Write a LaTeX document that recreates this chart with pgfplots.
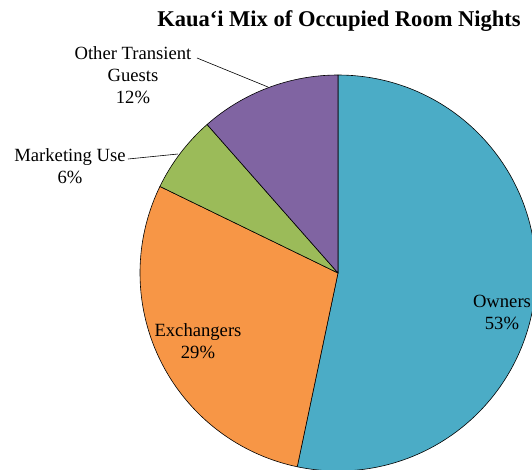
\documentclass[border=0pt]{standalone}
\usepackage{fontspec}
\setmainfont{Liberation Serif}
\usepackage{pgfplots}
\usepackage{pgfplotstable}
\pgfplotsset{compat=1.18}
\definecolor{cOwners}{HTML}{4BACC6}
\definecolor{cExch}{HTML}{F79646}
\definecolor{cMkt}{HTML}{9BBB59}
\definecolor{cOther}{HTML}{8064A2}
\pgfplotstableread{
label value
Owners 53.3
Exchangers 28.9
Marketing 6.3
Other 11.5
}\piedata
\begin{document}%
\begin{tikzpicture}
\pgfplotstablegetelem{0}{value}\of\piedata\pgfmathsetmacro\vA{\pgfplotsretval}
\pgfplotstablegetelem{1}{value}\of\piedata\pgfmathsetmacro\vB{\pgfplotsretval}
\pgfplotstablegetelem{2}{value}\of\piedata\pgfmathsetmacro\vC{\pgfplotsretval}
\pgfplotstablegetelem{3}{value}\of\piedata\pgfmathsetmacro\vD{\pgfplotsretval}
\pgfmathsetmacro\aO{90}
\pgfmathsetmacro\aA{\aO-3.6*\vA}
\pgfmathsetmacro\aB{\aA-3.6*\vB}
\pgfmathsetmacro\aC{\aB-3.6*\vC}
\pgfmathsetmacro\aD{\aC-3.6*\vD}
\begin{axis}[
  at={(0,0)}, anchor=south west,
  x=1bp, y=1bp, scale only axis,
  xmin=0, xmax=532, ymin=0, ymax=470,
  y dir=reverse,
  hide axis, clip=true,
]
\def\R{198bp}
\filldraw[fill=cOwners, draw=black, line width=0.6pt, line join=round]
  (axis cs:338,273) -- ++(\aO:\R) arc[start angle=\aO, end angle=\aA, radius=\R] -- cycle;
\filldraw[fill=cExch, draw=black, line width=0.6pt, line join=round]
  (axis cs:338,273) -- ++(\aA:\R) arc[start angle=\aA, end angle=\aB, radius=\R] -- cycle;
\filldraw[fill=cMkt, draw=black, line width=0.6pt, line join=round]
  (axis cs:338,273) -- ++(\aB:\R) arc[start angle=\aB, end angle=\aC, radius=\R] -- cycle;
\filldraw[fill=cOther, draw=black, line width=0.6pt, line join=round]
  (axis cs:338,273) -- ++(\aC:\R) arc[start angle=\aC, end angle=\aD, radius=\R] -- cycle;
% leader lines
\draw[black, line width=0.6pt] (axis cs:197,58) -- (axis cs:268,87);
\draw[black, line width=0.6pt] (axis cs:128,159) -- (axis cs:178,154);
% labels
\node[font=\fontsize{22.6}{26}\selectfont\bfseries] at (axis cs:339,21) {Kaua‘i Mix of Occupied Room Nights};
\node[font=\fontsize{18.7}{22}\selectfont, align=center] at (axis cs:133,75) {Other Transient\\Guests\\12\%};
\node[font=\fontsize{18.7}{22}\selectfont, align=center] at (axis cs:70,166) {Marketing Use\\6\%};
\node[font=\fontsize{18.7}{22}\selectfont, align=center] at (axis cs:198,341) {Exchangers\\29\%};
\node[font=\fontsize{18.7}{22}\selectfont, align=center] at (axis cs:502,312) {Owners\\53\%};
\end{axis}
\pgfresetboundingbox
\useasboundingbox (0,0) rectangle (532bp,470bp);
\end{tikzpicture}%
\end{document}
